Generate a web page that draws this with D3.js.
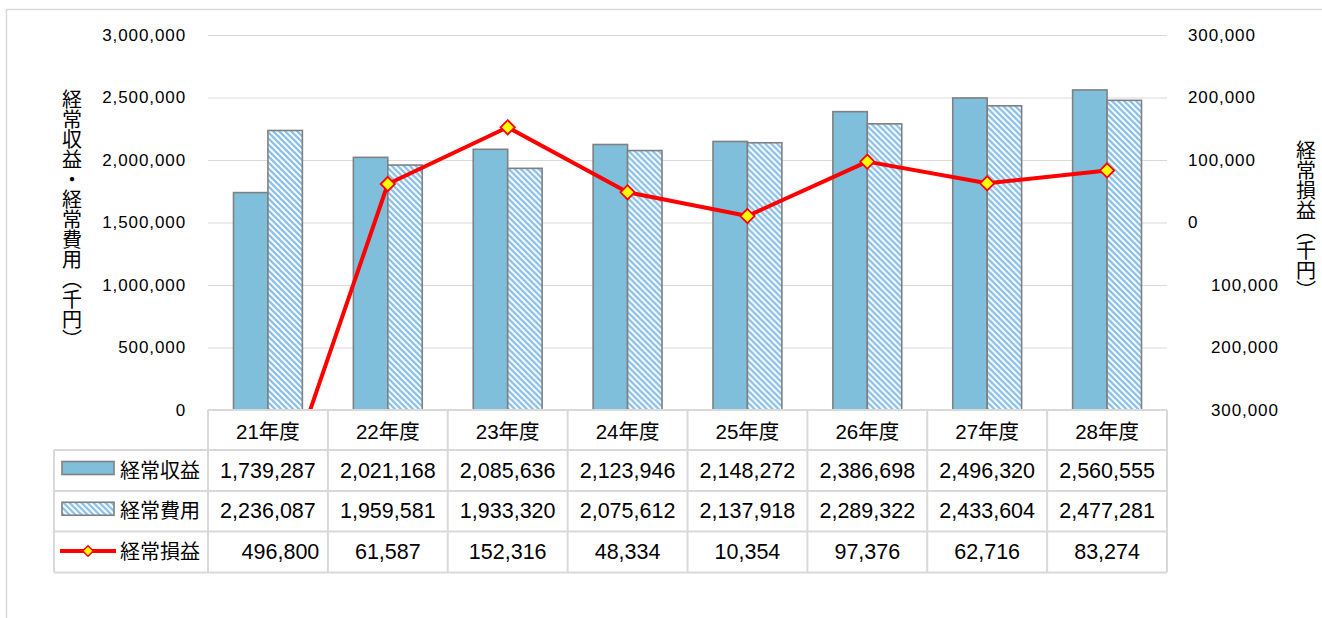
<!DOCTYPE html>
<html>
<head>
<meta charset="utf-8">
<script src="https://cdn.jsdelivr.net/npm/d3@7"></script>
<style>
  html, body { margin: 0; padding: 0; background: #fff; }
  text { font-family: "Liberation Sans", Arial, "Noto Sans CJK JP", sans-serif; fill: #000; }
</style>
</head>
<body>
<svg id="chart" width="1322" height="618"></svg>
<script>
const years = ['21年度', '22年度', '23年度', '24年度', '25年度', '26年度', '27年度', '28年度'];
const revenue = [1739287, 2021168, 2085636, 2123946, 2148272, 2386698, 2496320, 2560555];
const expense = [2236087, 1959581, 1933320, 2075612, 2137918, 2289322, 2433604, 2477281];
const profit = [-496800, 61587, 152316, 48334, 10354, 97376, 62716, 83274];
const leftTicks = [0, 500000, 1000000, 1500000, 2000000, 2500000, 3000000];
const rightTicks = [-300000, -200000, -100000, 0, 100000, 200000, 300000];
const seriesNames = ['経常収益', '経常費用', '経常損益'];

const svg = d3.select('#chart');
const plot = { left: 208, right: 1167, top: 35, bottom: 410 };
const rowY = [410, 450, 491, 531.5, 572.5];
const gridColor = '#d9d9d9';
const barBlue = '#7fbfdb';
const hatchBlue = '#8cc1e9';
const fmt = d3.format(',');

const x = d3.scaleBand().domain(years).range([plot.left, plot.right]);
const inner = d3.scaleBand().domain(['rev', 'exp'])
  .range([25.5, x.bandwidth() - 25.5]);
const yLeft = d3.scaleLinear().domain([0, 3000000]).range([plot.bottom, plot.top]);
const yRight = d3.scaleLinear().domain([-300000, 300000]).range([plot.bottom, plot.top]);

const defs = svg.append('defs');
const pat = defs.append('pattern')
  .attr('id', 'hatch')
  .attr('patternUnits', 'userSpaceOnUse')
  .attr('width', 6).attr('height', 6);
pat.append('rect').attr('width', 6).attr('height', 6).attr('fill', '#fff');
pat.append('path')
  .attr('d', 'M0,0L6,6M-3,3L3,9M3,-3L9,3')
  .attr('stroke', hatchBlue).attr('stroke-width', 2.3);

defs.append('clipPath').attr('id', 'plotClip')
  .append('rect')
  .attr('x', plot.left).attr('y', plot.top)
  .attr('width', plot.right - plot.left).attr('height', plot.bottom - plot.top);

// outer chart border
svg.append('rect')
  .attr('x', 6.5).attr('y', 9.5).attr('width', 1400).attr('height', 700)
  .attr('fill', 'none').attr('stroke', gridColor).attr('stroke-width', 1.5);

// gridlines
svg.append('g')
  .selectAll('line')
  .data(leftTicks)
  .join('line')
  .attr('x1', plot.left).attr('x2', plot.right)
  .attr('y1', d => yLeft(d) + 0.5).attr('y2', d => yLeft(d) + 0.5)
  .attr('stroke', gridColor).attr('stroke-width', 1.2);

// left axis labels
svg.append('g')
  .selectAll('text')
  .data(leftTicks)
  .join('text')
  .attr('x', 186).attr('y', d => yLeft(d))
  .attr('text-anchor', 'end').attr('dominant-baseline', 'central')
  .style('font-size', '17px').style('letter-spacing', '0.9px')
  .text(d => fmt(d));

// right axis labels (negatives shown without sign, shifted right)
svg.append('g')
  .selectAll('text')
  .data(rightTicks)
  .join('text')
  .attr('x', d => d < 0 ? 1211 : 1188).attr('y', d => yRight(d))
  .attr('dominant-baseline', 'central')
  .style('font-size', '17px').style('letter-spacing', '0.9px')
  .text(d => fmt(Math.abs(d)));

// axis titles
svg.append('text')
  .attr('x', 72).attr('y', 89)
  .style('writing-mode', 'vertical-rl')
  .style('font-size', '20px')
  .style('font-family', '"Noto Sans CJK JP", sans-serif')
  .text('経常収益・経常費用（千円）');
svg.append('text')
  .attr('x', 1306).attr('y', 140)
  .style('writing-mode', 'vertical-rl')
  .style('font-size', '20px')
  .style('font-family', '"Noto Sans CJK JP", sans-serif')
  .text('経常損益（千円）');

// bars
const groups = svg.append('g')
  .selectAll('g')
  .data(years.map((yr, i) => ({ yr, rev: revenue[i], exp: expense[i] })))
  .join('g')
  .attr('transform', d => `translate(${x(d.yr)},0)`);
groups.selectAll('rect')
  .data(d => [{ key: 'rev', v: d.rev }, { key: 'exp', v: d.exp }])
  .join('rect')
  .attr('x', d => inner(d.key))
  .attr('y', d => yLeft(d.v))
  .attr('width', inner.bandwidth())
  .attr('height', d => yLeft(0) - yLeft(d.v))
  .attr('fill', d => d.key === 'rev' ? barBlue : 'url(#hatch)')
  .attr('stroke', '#808080').attr('stroke-width', 1.6);

// profit line
const cx = yr => x(yr) + x.bandwidth() / 2;
const lineG = svg.append('g').attr('clip-path', 'url(#plotClip)');
lineG.append('path')
  .datum(years.map((yr, i) => [cx(yr), yRight(profit[i])]))
  .attr('d', d3.line())
  .attr('fill', 'none').attr('stroke', '#ff0000').attr('stroke-width', 4)
  .attr('stroke-linejoin', 'round');
const diamond = d3.symbol().type(d3.symbolDiamond2).size(130);
lineG.selectAll('path.mark')
  .data(years.map((yr, i) => [cx(yr), yRight(profit[i])]))
  .join('path')
  .classed('mark', true)
  .attr('d', diamond)
  .attr('transform', d => `translate(${d[0]},${d[1]})`)
  .attr('fill', '#ffff00').attr('stroke', '#ff0000').attr('stroke-width', 1.8);

// data table
const table = svg.append('g');
table.selectAll('line.h')
  .data(rowY)
  .join('line')
  .classed('h', true)
  .attr('x1', (d, i) => i === 0 ? plot.left : 54).attr('x2', plot.right)
  .attr('y1', d => d).attr('y2', d => d)
  .attr('stroke', gridColor).attr('stroke-width', 2);
table.append('line')
  .attr('x1', 54).attr('x2', 54).attr('y1', rowY[1]).attr('y2', rowY[4])
  .attr('stroke', gridColor).attr('stroke-width', 2);
table.selectAll('line.v')
  .data(years.map(yr => x(yr)).concat([plot.right]))
  .join('line')
  .classed('v', true)
  .attr('x1', d => d).attr('x2', d => d).attr('y1', rowY[0]).attr('y2', rowY[4])
  .attr('stroke', gridColor).attr('stroke-width', 2);

table.selectAll('text.cat')
  .data(years)
  .join('text')
  .classed('cat', true)
  .attr('x', d => cx(d)).attr('y', (rowY[0] + rowY[1]) / 2 + 1)
  .attr('text-anchor', 'middle').attr('dominant-baseline', 'central')
  .style('font-size', '20.5px')
  .text(d => d);

const rows = [revenue, expense, profit];
rows.forEach((vals, r) => {
  const yMid = (rowY[r + 1] + rowY[r + 2]) / 2;
  table.append('g')
    .selectAll('text')
    .data(vals)
    .join('text')
    .attr('x', (d, i) => cx(years[i]) + (d < 0 ? 12.5 : 0))
    .attr('y', yMid)
    .attr('text-anchor', 'middle').attr('dominant-baseline', 'central')
    .style('font-size', '21.5px')
    .text(d => fmt(Math.abs(d)));

  const key = table.append('g').attr('transform', `translate(0,${yMid})`);
  if (r < 2) {
    key.append('rect')
      .attr('x', 62).attr('y', -9).attr('width', 52).attr('height', 13)
      .attr('fill', r === 0 ? barBlue : 'url(#hatch)')
      .attr('stroke', '#808080').attr('stroke-width', 1.6);
  } else {
    key.append('line')
      .attr('x1', 60).attr('x2', 116).attr('y1', -1).attr('y2', -1)
      .attr('stroke', '#ff0000').attr('stroke-width', 4);
    key.append('path')
      .attr('d', d3.symbol().type(d3.symbolDiamond2).size(70))
      .attr('transform', 'translate(88,-1)')
      .attr('fill', '#ffff00').attr('stroke', '#ff0000').attr('stroke-width', 1.5);
  }
  key.append('text')
    .attr('x', 120).attr('y', 0)
    .attr('dominant-baseline', 'central')
    .style('font-size', '20px')
    .text(seriesNames[r]);
});
</script>
</body>
</html>
